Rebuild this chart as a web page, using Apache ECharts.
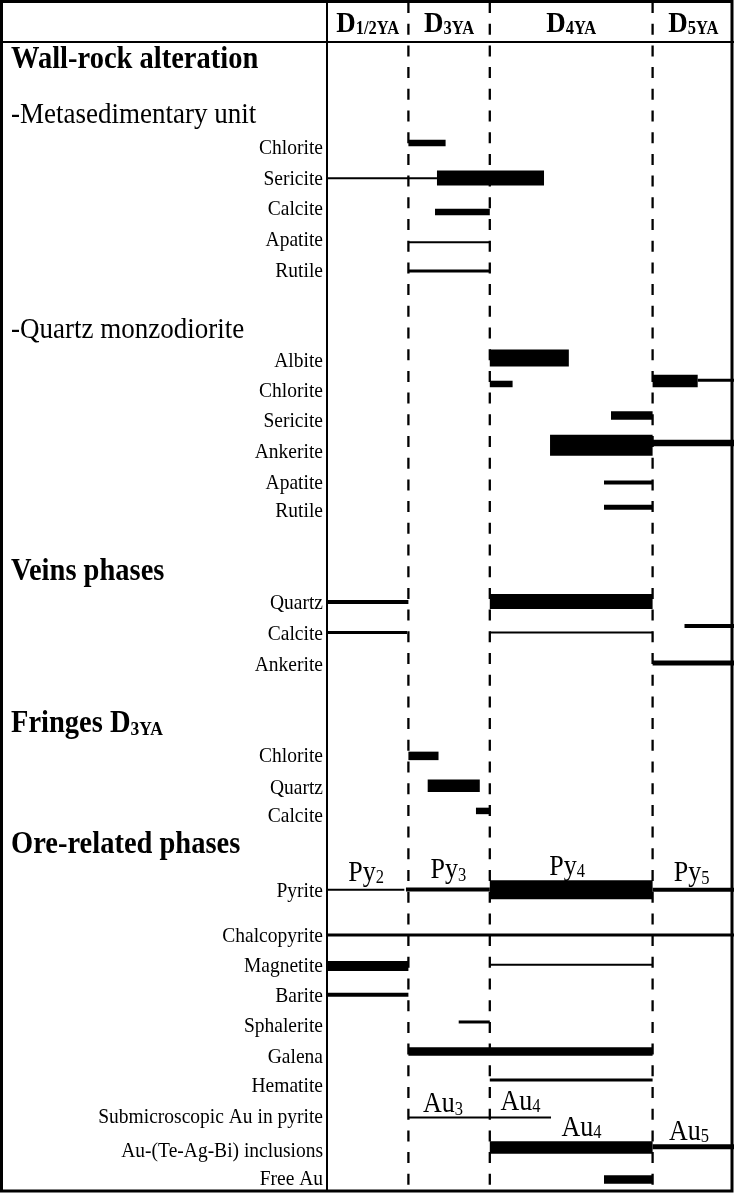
<!DOCTYPE html>
<html><head><meta charset="utf-8">
<script src="https://cdn.jsdelivr.net/npm/echarts@6/dist/echarts.min.js"></script>
<style>html,body{margin:0;padding:0;background:#fff}#c{width:736px;height:1193px}</style>
</head><body><div id="c"></div>
<script>
// ---- column (deformation phase) headers ----
const phaseMain = ['D', 'D', 'D', 'D'];
const phaseSubs = ['1/2YA', '3YA', '4YA', '5YA'];
const phaseCenters = [0.5, 1.5, 3, 4.5];
const phaseBounds = [0, 1, 2, 4];          // 0 = solid line, others dashed
const headerRow = -0.6;

// ---- section headings: [text, subscript, row, kind] ----
const headings = [
  ['Wall-rock alteration', '', 0.53, 'h'],
  ['-Metasedimentary unit', '', 2.35, 's'],
  ['-Quartz monzodiorite', '', 9.46, 's'],
  ['Veins phases', '', 17.46, 'h'],
  ['Fringes D', '3YA', 22.49, 'h'],
  ['Ore-related phases', '', 26.49, 'h']
];

// ---- mineral labels: [text, row] ----
const mineralLabels = [
  ['Chlorite', 3.47], ['Sericite', 4.50], ['Calcite', 5.49], ['Apatite', 6.52], ['Rutile', 7.54],
  ['Albite', 10.52], ['Chlorite', 11.51], ['Sericite', 12.50], ['Ankerite', 13.53], ['Apatite', 14.54], ['Rutile', 15.48],
  ['Quartz', 18.51], ['Calcite', 19.54], ['Ankerite', 20.55],
  ['Chlorite', 23.58], ['Quartz', 24.63], ['Calcite', 25.56],
  ['Pyrite', 28.04], ['Chalcopyrite', 29.53], ['Magnetite', 30.52], ['Barite', 31.52], ['Sphalerite', 32.51],
  ['Galena', 33.53], ['Hematite', 34.49], ['Submicroscopic Au in pyrite', 35.52],
  ['Au-(Te-Ag-Bi) inclusions', 36.64], ['Free Au', 37.57]
];

// ---- occurrence segments: [start, end, row, abundance level] ----
const metaSegments = [
  [1.0, 1.457, 3.34, 5],
  [0.0, 1.351, 4.51, 1], [1.351, 2.666, 4.50, 9],
  [1.327, 2.0, 5.62, 5],
  [1.0, 2.0, 6.62, 1],
  [1.0, 2.0, 7.57, 2]
];
const monzoSegments = [
  [2.0, 2.971, 10.45, 10],
  [2.0, 2.28, 11.31, 5], [4.0, 4.554, 11.21, 8], [4.554, 5.0, 11.19, 2],
  [3.489, 4.0, 12.35, 6],
  [2.74, 4.0, 13.34, 12], [4.0, 5.0, 13.26, 5],
  [3.403, 4.0, 14.57, 3],
  [3.403, 4.0, 15.39, 4]
];
const veinSegments = [
  [0.0, 1.0, 18.52, 3], [2.0, 4.0, 18.50, 9],
  [0.0, 0.983, 19.53, 2], [2.0, 4.0, 19.53, 1], [4.392, 5.0, 19.31, 3],
  [4.0, 5.0, 20.54, 4]
];
const fringeSegments = [
  [1.0, 1.37, 23.61, 6],
  [1.237, 1.877, 24.60, 8],
  [1.83, 2.0, 25.43, 5]
];
const oreSegments = [
  [0.0, 0.95, 28.04, 1], [0.97, 2.0, 28.03, 3], [2.0, 4.0, 28.04, 11], [4.0, 5.0, 28.04, 3],
  [0.0, 5.0, 29.53, 2],
  [0.0, 1.0, 30.56, 7], [2.0, 4.0, 30.52, 1],
  [0.0, 1.0, 31.51, 3],
  [1.618, 2.0, 32.41, 2],
  [1.0, 4.0, 33.39, 6],
  [2.0, 4.0, 34.33, 2],
  [1.0, 2.752, 35.57, 1],
  [2.0, 4.0, 36.56, 8], [4.0, 5.0, 36.54, 4],
  [3.403, 4.0, 37.62, 6]
];

// ---- generation annotations: [text, subscript, x, row] ----
const annotations = [
  ['Py', '2', 0.48, 27.45], ['Py', '3', 1.49, 27.38], ['Py', '4', 2.95, 27.27], ['Py', '5', 4.48, 27.48],
  ['Au', '3', 1.425, 35.12], ['Au', '4', 2.377, 35.04], ['Au', '4', 3.127, 35.9], ['Au', '5', 4.447, 36.03]
];

// ---------------------------------------------------------------
const segments = [].concat(metaSegments, monzoSegments, veinSegments, fringeSegments, oreSegments);
const X_MIN = 0, X_MAX = 5, Y_MIN = -1.323, Y_MAX = 38;
const FONT = '"Liberation Serif","Times New Roman",serif';
const thickness = {1: 2, 2: 3, 3: 4, 4: 5, 5: 6.5, 6: 8.5, 7: 10, 8: 12.5, 9: 15, 10: 17, 11: 19, 12: 21};
const TALL = 1.1;   // reference glyphs look slightly taller than plain Times

const chart = echarts.init(document.getElementById('c'), null, {renderer: 'canvas'});

function segItem(params, api) {
  const s = segments[params.dataIndex];
  const a = api.coord([s[0], s[2]]), b = api.coord([s[1], s[2]]);
  const h = thickness[s[3]];
  return {type: 'rect', shape: {x: a[0], y: a[1] - h / 2, width: b[0] - a[0], height: h}, style: {fill: '#000'}};
}
function divItem(params, api) {
  const b = phaseBounds[params.dataIndex];
  const p0 = api.coord([b, Y_MIN]), p1 = api.coord([b, Y_MAX]);
  return {type: 'line', shape: {x1: p0[0], y1: p0[1], x2: p1[0], y2: p1[1]},
    style: {stroke: '#000', lineWidth: b === 0 ? 2 : 2.3, lineDash: b === 0 ? null : [11, 10.7]}};
}
function ruleItem(params, api) {
  const p = api.coord([X_MAX, 0]);
  return {type: 'line', shape: {x1: 2, y1: p[1], x2: p[0], y2: p[1]}, style: {stroke: '#000', lineWidth: 2}};
}
function headerItem(params, api) {
  const i = params.dataIndex;
  const p = api.coord([phaseCenters[i], headerRow]);
  return {type: 'text', x: p[0], y: p[1], scaleY: TALL, style: {
    text: phaseMain[i] + '{s|' + phaseSubs[i] + '}', fill: '#000', align: 'center', verticalAlign: 'middle',
    fontFamily: FONT, fontWeight: 'bold', fontSize: 27, lineHeight: 27,
    rich: {s: {fontFamily: FONT, fontWeight: 'bold', fontSize: 16.5, lineHeight: 15, verticalAlign: 'bottom'}}
  }};
}
function headingItem(params, api) {
  const h = headings[params.dataIndex];
  const p = api.coord([0, h[2]]);
  const bold = h[3] === 'h';
  return {type: 'text', x: 11, y: p[1] + 2, scaleY: TALL, style: {
    text: h[0] + (h[1] ? '{s|' + h[1] + '}' : ''), fill: '#000', align: 'left', verticalAlign: 'middle',
    fontFamily: FONT, fontWeight: bold ? 'bold' : 'normal', fontSize: bold ? 28.5 : 27, lineHeight: bold ? 28.5 : 27,
    rich: {s: {fontFamily: FONT, fontWeight: 'bold', fontSize: 17.5, lineHeight: 14, verticalAlign: 'bottom'}}
  }};
}
function labelItem(params, api) {
  const m = mineralLabels[params.dataIndex];
  const p = api.coord([0, m[1]]);
  return {type: 'text', x: p[0] - 4, y: p[1] + 1.5, scaleY: TALL, style: {
    text: m[0], fill: '#000', align: 'right', verticalAlign: 'middle', fontFamily: FONT, fontSize: 19.5
  }};
}
function annoItem(params, api) {
  const a = annotations[params.dataIndex];
  const p = api.coord([a[2], a[3]]);
  return {type: 'text', x: p[0], y: p[1] + 1, scaleY: TALL, style: {
    text: a[0] + '{s|' + a[1] + '}', fill: '#000', align: 'center', verticalAlign: 'middle',
    fontFamily: FONT, fontSize: 26, lineHeight: 26,
    rich: {s: {fontFamily: FONT, fontSize: 16.5, lineHeight: 6, verticalAlign: 'bottom'}}
  }};
}
const idx = arr => arr.map((_, i) => [i]);

chart.setOption({
  animation: false,
  backgroundColor: '#fff',
  grid: {left: 327, right: 2, top: 2, bottom: 2},
  xAxis: {type: 'value', min: X_MIN, max: X_MAX, show: false},
  yAxis: {type: 'value', min: Y_MIN, max: Y_MAX, inverse: true, show: false},
  graphic: [{type: 'rect', shape: {x: 1.5, y: 1.5, width: 730.5, height: 1189.5},
    style: {fill: null, stroke: '#000', lineWidth: 3}, z: 100}],
  series: [
    {type: 'custom', name: 'dividers', data: idx(phaseBounds), renderItem: divItem, clip: false, silent: true},
    {type: 'custom', name: 'rule', data: [[0]], renderItem: ruleItem, clip: false, silent: true},
    {type: 'custom', name: 'segments', data: idx(segments), renderItem: segItem, clip: false, silent: true, z: 3},
    {type: 'custom', name: 'header', data: idx(phaseMain), renderItem: headerItem, clip: false, silent: true},
    {type: 'custom', name: 'headings', data: idx(headings), renderItem: headingItem, clip: false, silent: true},
    {type: 'custom', name: 'labels', data: idx(mineralLabels), renderItem: labelItem, clip: false, silent: true},
    {type: 'custom', name: 'annotations', data: idx(annotations), renderItem: annoItem, clip: false, silent: true}
  ]
});
</script></body></html>
